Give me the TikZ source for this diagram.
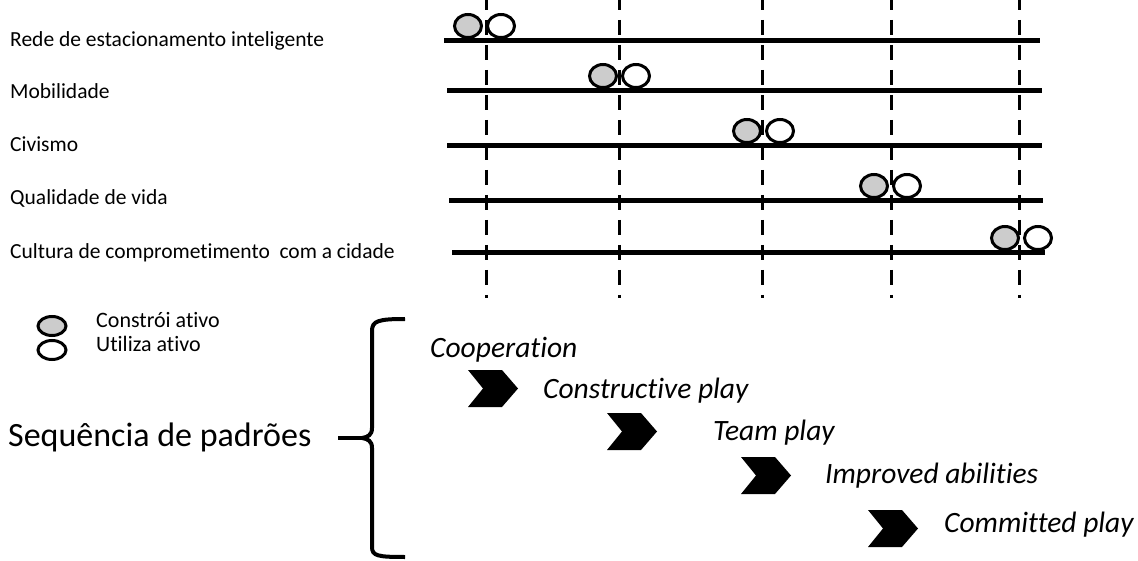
\documentclass[tikz,border=0pt]{standalone}
\usepackage{fontspec}
\setmainfont{Carlito}[Ligatures={NoCommon}]
\usetikzlibrary{shapes.geometric}
\tikzset{
	rowline/.style={line width=5pt},
	guide/.style={line width=3pt, dash pattern=on 15pt off 10pt, dash phase=5pt},
	builds/.style={ellipse, draw, line width=3pt, fill=black!20, minimum width=27pt, minimum height=23pt, inner sep=0pt},
	uses/.style={builds, fill=white},
	keymark/.style={ellipse, draw, line width=3pt, minimum width=28pt, minimum height=19pt, inner sep=0pt},
	rowlabel/.style={anchor=base west, inner sep=0pt, font=\fontsize{21.5}{26}\selectfont},
	keylabel/.style={anchor=base west, inner sep=0pt, font=\fontsize{22}{26}\selectfont},
	patternlabel/.style={anchor=base west, inner sep=0pt, font=\fontsize{29.5}{34}\selectfont\itshape},
}
\def\chevron(#1,#2){\fill[black] (#1,#2) -- ++(34,0) -- ++(16,18.5) -- ++(-16,18.5) -- ++(-34,0) -- ++(15,-18.5) -- cycle;}

\begin{document}
\begin{tikzpicture}[x=1pt, y=-1pt]
		%%%%% START %%%%%
		\useasboundingbox (0,0) rectangle (1138,561);
		
		% dashed columns
		\foreach \i/\cx in {1/486, 2/619, 3/762, 4/891, 5/1019} {
			\coordinate (top\i) at (\cx, 0);
			\coordinate (bot\i) at (\cx, 298);
			\draw[guide] (top\i) -- (bot\i);
		}
		
		% rows: label, line, and the pair of marks
		\node[rowlabel] (lbl1) at (10, 47) {Rede de estacionamento inteligente};
		\node[rowlabel] (lbl2) at (10, 99) {Mobilidade};
		\node[rowlabel] (lbl3) at (10, 152) {Civismo};
		\node[rowlabel] (lbl4) at (10, 205) {Qualidade de vida};
		\node[rowlabel] (lbl5) at (10, 259) {Cultura de comprometimento\ \ com a cidade};
		
		\foreach \i/\ya/\xa/\xb/\gx in {1/41/444/1040/468, 2/91/447/1042/603, 3/146/447/1042/747, 4/201/449/1043/874, 5/253/452/1045/1005} {
			\coordinate (la\i) at (\xa, \ya);
			\coordinate (lb\i) at (\xb, \ya);
			\draw[rowline] (la\i) -- (lb\i);
			\node[builds] (b\i) at (\gx, \ya-15) {};
			\node[uses] (u\i) at (\gx+33, \ya-15) {};
		}
		
		% key
		\node[keymark, fill=black!20] (kb) at (52, 326) {};
		\node[keymark, fill=white] (ku) at (52, 350) {};
		\node[keylabel] (kbl) at (96, 327) {Constrói ativo};
		\node[keylabel] (kul) at (96, 352) {Utiliza ativo};
		
		% brace
		\node[anchor=west, inner sep=0pt, font=\fontsize{34}{40}\selectfont] (seq) at (8, 437) {Sequência de padrões};
		\coordinate (tip) at (362, 438);
		\draw[line width=4pt] (338, 438) -- (tip);
		\draw[line width=4pt] (405, 319) .. controls (378, 319) and (372, 321) .. (372, 331) -- (372, 428) .. controls (372, 435) and (368, 437) .. (tip);
		\draw[line width=4pt] (tip) .. controls (368, 439) and (372, 441) .. (372, 448) -- (372, 547) .. controls (372, 556) and (378, 557) .. (405, 557);
		
		% sequence of patterns
		\node[patternlabel] (p1) at (430, 357) {Cooperation};
		\chevron(468,370)
		\node[patternlabel] (p2) at (543, 398) {Constructive play};
		\chevron(607,413)
		\node[patternlabel] (p3) at (713, 440) {Team play};
		\chevron(741,457)
		\node[patternlabel] (p4) at (825, 483) {Improved abilities};
		\chevron(868,510)
		\node[patternlabel] (p5) at (944, 532) {Committed play};
		
		%%%%% END %%%%%
	\end{tikzpicture}
\end{document}
